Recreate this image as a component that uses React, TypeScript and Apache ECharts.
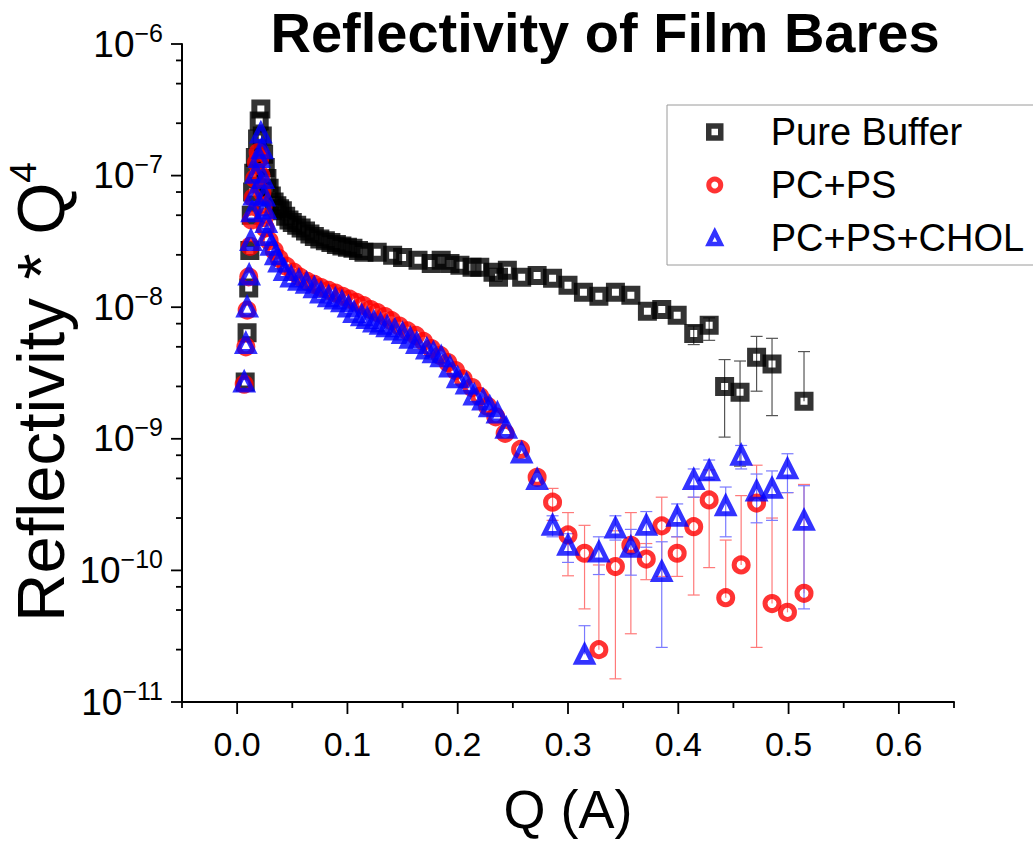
import React, { useEffect, useRef } from 'react';
import * as echarts from 'echarts';

// ---------- data ----------
const pureBufferQ = [0.0073, 0.0090, 0.0105, 0.0115, 0.0128, 0.0140, 0.0150, 0.0165, 0.0185, 0.0200, 0.0215, 0.0228, 0.0240, 0.0255, 0.0270, 0.0290, 0.0310, 0.0335, 0.0360, 0.0385, 0.0410, 0.0440, 0.0470, 0.0500, 0.0540, 0.0580, 0.0620, 0.0660, 0.0700, 0.0750, 0.0800, 0.0850, 0.0900, 0.0950, 0.1000, 0.1050, 0.1100, 0.1150, 0.1270, 0.1410, 0.1500, 0.1640, 0.1760, 0.1850, 0.1930, 0.2020, 0.2130, 0.2200, 0.2320, 0.2370, 0.2450, 0.2580, 0.2720, 0.2860, 0.3000, 0.3140, 0.3280, 0.3430, 0.3570, 0.3720, 0.3850, 0.3990, 0.4140, 0.4280, 0.4420, 0.4560, 0.4710, 0.4850, 0.5140];
const pureBufferR = [2.7e-9, 6.4e-9, 1.4e-8, 2.7e-8, 5.0e-8, 7.5e-8, 1.04e-7, 1.37e-7, 1.9e-7, 2.6e-7, 3.2e-7, 2.0e-7, 1.45e-7, 1.15e-7, 9.5e-8, 8.0e-8, 7.0e-8, 6.3e-8, 5.9e-8, 5.6e-8, 5.4e-8, 4.9e-8, 4.6e-8, 4.4e-8, 4.2e-8, 4.0e-8, 3.8e-8, 3.6e-8, 3.45e-8, 3.3e-8, 3.2e-8, 3.1e-8, 3.0e-8, 2.92e-8, 2.85e-8, 2.8e-8, 2.7e-8, 2.61e-8, 2.61e-8, 2.48e-8, 2.39e-8, 2.27e-8, 2.15e-8, 2.27e-8, 2.15e-8, 2.08e-8, 2.01e-8, 2.01e-8, 1.84e-8, 1.69e-8, 1.91e-8, 1.69e-8, 1.74e-8, 1.66e-8, 1.47e-8, 1.30e-8, 1.21e-8, 1.30e-8, 1.23e-8, 9.3e-9, 9.6e-9, 8.7e-9, 6.3e-9, 7.3e-9, 2.5e-9, 2.26e-9, 4.17e-9, 3.7e-9, 1.93e-9];

const pcpsQ = [0.0064, 0.0079, 0.0091, 0.0105, 0.0118, 0.0130, 0.0145, 0.0160, 0.0175, 0.0190, 0.0205, 0.0215, 0.0225, 0.0235, 0.0245, 0.0255, 0.0290, 0.0336, 0.0380, 0.0445, 0.0510, 0.0570, 0.0636, 0.0700, 0.0760, 0.0830, 0.0890, 0.0955, 0.1020, 0.1080, 0.1145, 0.1210, 0.1270, 0.1340, 0.1400, 0.1470, 0.1545, 0.1620, 0.1690, 0.1760, 0.1840, 0.1910, 0.1980, 0.2050, 0.2130, 0.2200, 0.2270, 0.2345, 0.2430, 0.2570, 0.2720, 0.2860, 0.3000, 0.3150, 0.3280, 0.3430, 0.3570, 0.3710, 0.3850, 0.3990, 0.4140, 0.4280, 0.4430, 0.4570, 0.4710, 0.4850, 0.4990, 0.5140];
const pcpsR = [2.6e-9, 5.0e-9, 9.5e-9, 1.7e-8, 2.9e-8, 4.6e-8, 6.8e-8, 9.5e-8, 1.25e-7, 1.5e-7, 1.35e-7, 1.0e-7, 7.5e-8, 5.8e-8, 4.8e-8, 4.0e-8, 3.2e-8, 2.7e-8, 2.35e-8, 2.05e-8, 1.85e-8, 1.69e-8, 1.57e-8, 1.49e-8, 1.41e-8, 1.34e-8, 1.28e-8, 1.21e-8, 1.15e-8, 1.09e-8, 1.03e-8, 9.6e-9, 9.1e-9, 8.5e-9, 7.9e-9, 7.2e-9, 6.6e-9, 6.1e-9, 5.5e-9, 4.85e-9, 4.3e-9, 3.8e-9, 3.3e-9, 2.85e-9, 2.45e-9, 2.1e-9, 1.77e-9, 1.47e-9, 1.1e-9, 8.3e-10, 5.1e-10, 3.3e-10, 1.86e-10, 1.35e-10, 2.5e-11, 1.07e-10, 1.55e-10, 1.22e-10, 2.18e-10, 1.35e-10, 2.15e-10, 3.43e-10, 6.2e-11, 1.1e-10, 3.25e-10, 5.6e-11, 4.8e-11, 6.7e-11];

const cholQ = [0.0064, 0.0079, 0.0091, 0.0109, 0.0125, 0.0136, 0.0155, 0.0170, 0.0200, 0.0215, 0.0227, 0.0236, 0.0246, 0.0255, 0.0264, 0.0270, 0.0310, 0.0350, 0.0380, 0.0430, 0.0490, 0.0560, 0.0630, 0.0700, 0.0760, 0.0830, 0.0890, 0.0950, 0.1010, 0.1060, 0.1130, 0.1180, 0.1240, 0.1300, 0.1360, 0.1430, 0.1500, 0.1570, 0.1630, 0.1720, 0.1780, 0.1850, 0.1930, 0.2000, 0.2080, 0.2150, 0.2230, 0.2290, 0.2360, 0.2440, 0.2580, 0.2720, 0.2860, 0.3000, 0.3150, 0.3280, 0.3430, 0.3570, 0.3710, 0.3850, 0.3990, 0.4140, 0.4280, 0.4430, 0.4570, 0.4710, 0.4850, 0.4990, 0.5140];
const cholR = [2.7e-9, 5.3e-9, 1.0e-8, 1.75e-8, 3.2e-8, 5.3e-8, 7.1e-8, 1.04e-7, 1.37e-7, 2.1e-7, 1.6e-7, 9.5e-8, 7.0e-8, 5.6e-8, 4.4e-8, 3.5e-8, 2.95e-8, 2.5e-8, 2.2e-8, 1.9e-8, 1.69e-8, 1.6e-8, 1.52e-8, 1.4e-8, 1.28e-8, 1.2e-8, 1.15e-8, 1.1e-8, 1.0e-8, 9.1e-9, 8.6e-9, 8.2e-9, 7.7e-9, 7.4e-9, 7.1e-9, 6.7e-9, 6.3e-9, 5.8e-9, 5.3e-9, 4.8e-9, 4.5e-9, 4.2e-9, 3.5e-9, 2.9e-9, 2.6e-9, 2.15e-9, 1.97e-9, 1.75e-9, 1.57e-9, 1.2e-9, 7.8e-10, 4.9e-10, 2.2e-10, 1.55e-10, 2.3e-11, 1.38e-10, 2.1e-10, 1.5e-10, 2.2e-10, 9.8e-11, 2.57e-10, 4.9e-10, 5.7e-10, 3.1e-10, 7.5e-10, 4.0e-10, 4.2e-10, 5.9e-10, 2.4e-10];

// error bars: lower bound 0 = lower bar not shown (goes below zero)
const pureBufferErrQ = [0.4140, 0.4280, 0.4420, 0.4560, 0.4710, 0.4850, 0.5140];
const pureBufferErrLo = [5.2e-9, 5.6e-9, 1.03e-9, 6.2e-10, 2.3e-9, 1.5e-9, 0];
const pureBufferErrHi = [7.2e-9, 8.3e-9, 4.0e-9, 3.9e-9, 6.0e-9, 5.8e-9, 4.6e-9];

const pcpsErrQ = [0.2860, 0.3000, 0.3150, 0.3280, 0.3430, 0.3570, 0.3710, 0.3850, 0.3990, 0.4140, 0.4280, 0.4430, 0.4570, 0.4710, 0.4850, 0.4990, 0.5140];
const pcpsErrLo = [2.4e-10, 9.1e-11, 5.1e-11, 0, 1.5e-11, 3.3e-11, 8.5e-11, 9e-11, 9e-11, 6.5e-11, 1.05e-10, 0, 0, 2.6e-11, 0, 0, 0];
const pcpsErrHi = [4.2e-10, 2.75e-10, 2.2e-10, 1.1e-10, 2.0e-10, 2.75e-10, 1.6e-10, 3.6e-10, 1.8e-10, 3.6e-10, 5.8e-10, 1.7e-10, 3.7e-10, 6.3e-10, 2.5e-10, 3.9e-10, 4.5e-10];

const cholErrQ = [0.2860, 0.3000, 0.3150, 0.3280, 0.3430, 0.3570, 0.3710, 0.3850, 0.3990, 0.4140, 0.4280, 0.4430, 0.4570, 0.4710, 0.4850, 0.4990, 0.5140];
const cholErrLo = [1.8e-10, 1.15e-10, 0, 9.3e-11, 1.7e-10, 9.2e-11, 1.5e-10, 2.6e-11, 1.8e-10, 3.6e-10, 4.9e-10, 1.8e-10, 5.9e-10, 2.3e-10, 2.4e-10, 3.9e-10, 5.1e-11];
const cholErrHi = [2.6e-10, 1.9e-10, 3.8e-11, 1.8e-10, 2.6e-10, 2.05e-10, 2.8e-10, 1.65e-10, 3.2e-10, 5.9e-10, 6.9e-10, 4.3e-10, 8.9e-10, 5.4e-10, 5.7e-10, 7.7e-10, 4.4e-10];

// axis ticks
const xMajorTicks = [0, 0.1, 0.2, 0.3, 0.4, 0.5, 0.6];
const xMinorTicks = [-0.05, 0.05, 0.15, 0.25, 0.35, 0.45, 0.55, 0.65];
const yMajorTicks = [1e-11, 1e-10, 1e-9, 1e-8, 1e-7, 1e-6];
const yMinorTicks = [2.5e-11, 5e-11, 7.5e-11, 2.5e-10, 5e-10, 7.5e-10, 2.5e-9, 5e-9, 7.5e-9, 2.5e-8, 5e-8, 7.5e-8, 2.5e-7, 5e-7, 7.5e-7];

const seriesNames = ['Pure Buffer', 'PC+PS', 'PC+PS+CHOL'];

const FONT = "'Liberation Sans', Arial, Helvetica, sans-serif";
const X_MIN = -0.05;
const X_MAX = 0.65;
const Y_MIN = 1e-11;
const Y_MAX = 1e-6;

function zip(q: number[], r: number[]) {
  return q.map((v, i) => [v, r[i]]);
}

function errData(eq: number[], lo: number[], hi: number[], q: number[], r: number[]) {
  return eq.map((x, i) => {
    let k = 0;
    let best = Infinity;
    q.forEach((qq, j) => {
      const d = Math.abs(qq - x);
      if (d < best) { best = d; k = j; }
    });
    const hasLo = lo[i] > 0 ? 1 : 0;
    return [x, hasLo ? lo[i] : r[k], hi[i], hasLo];
  });
}

function errSeries(name: string, data: number[][], color: string) {
  return {
    type: 'custom',
    name: name + ' error',
    silent: true,
    z: 1,
    data,
    encode: { x: 0, y: [1, 2] },
    renderItem: (params: any, api: any) => {
      const q = api.value(0);
      const lo = api.value(1);
      const hi = api.value(2);
      const hasLo = api.value(3);
      const pLo = api.coord([q, lo]);
      const pHi = api.coord([q, hi]);
      const cw = 6;
      const style = { stroke: color, lineWidth: 1.2, fill: null };
      const children: any[] = [
        { type: 'line', shape: { x1: pLo[0], y1: pLo[1], x2: pHi[0], y2: pHi[1] }, style },
        { type: 'line', shape: { x1: pHi[0] - cw, y1: pHi[1], x2: pHi[0] + cw, y2: pHi[1] }, style },
      ];
      if (hasLo) {
        children.push({ type: 'line', shape: { x1: pLo[0] - cw, y1: pLo[1], x2: pLo[0] + cw, y2: pLo[1] }, style });
      }
      return { type: 'group', children };
    },
  };
}

export default function App() {
  const ref = useRef<HTMLDivElement>(null);

  useEffect(() => {
    if (!ref.current) return;
    const chart = echarts.init(ref.current, undefined, { renderer: 'svg' });

    const tickData: number[][] = [
      ...xMajorTicks.map((v) => [v, Y_MIN, 0, 12]),
      ...xMinorTicks.map((v) => [v, Y_MIN, 0, 6]),
      ...yMajorTicks.map((v) => [X_MIN, v, 1, 11]),
      ...yMinorTicks.map((v) => [X_MIN, v, 1, 6]),
    ];

    const option: any = {
      animation: false,
      backgroundColor: '#ffffff',
      title: {
        text: 'Reflectivity of Film Bares',
        left: 605,
        top: 4,
        padding: 0,
        textAlign: 'center',
        textStyle: { fontSize: 56, fontWeight: 'bold', fontFamily: FONT, color: '#000' },
      },
      legend: {
        data: [
          { name: seriesNames[0], icon: 'rect', itemStyle: { color: 'rgba(0,0,0,0)', borderColor: '#000', borderWidth: 5.5 } },
          { name: seriesNames[1], icon: 'circle', itemStyle: { color: 'rgba(0,0,0,0)', borderColor: '#ff0000', borderWidth: 5 } },
          { name: seriesNames[2], icon: 'triangle', itemStyle: { color: 'rgba(0,0,0,0)', borderColor: '#0000ff', borderWidth: 4.5 } },
        ],
        orient: 'vertical',
        left: 667,
        top: 105,
        itemWidth: 12,
        itemHeight: 12,
        itemGap: 13,
        padding: [7, 40, 7, 39],
        borderColor: '#9a9a9a',
        borderWidth: 1,
        borderRadius: 0,
        backgroundColor: '#fff',
        selectedMode: false,
        textStyle: { fontSize: 38, fontFamily: FONT, color: '#000', lineHeight: 40, padding: [0, 0, 0, 45] },
      },
      grid: { left: 182, right: 79, top: 44, bottom: 146, containLabel: false, outerBoundsMode: 'none' },
      xAxis: {
        type: 'value',
        min: X_MIN,
        max: X_MAX,
        interval: 0.05,
        name: 'Q (A)',
        nameLocation: 'middle',
        nameGap: 80,
        nameMoveOverlap: false,
        nameTextStyle: { fontSize: 54, fontFamily: FONT, color: '#000' },
        axisLine: { show: true, onZero: false, lineStyle: { color: '#000', width: 2 } },
        axisTick: { show: false },
        splitLine: { show: false },
        axisLabel: {
          margin: 25,
          fontSize: 34,
          fontFamily: FONT,
          color: '#000',
          showMinLabel: true,
          showMaxLabel: true,
          formatter: (v: number) => {
            const k = Math.round(v * 20);
            return k % 2 === 0 ? (k / 20).toFixed(1) : '';
          },
        },
      },
      yAxis: {
        type: 'log',
        logBase: 10,
        min: Y_MIN,
        max: Y_MAX,
        name: '{a|Reflectivity * Q}{s|4}',
        nameLocation: 'middle',
        nameRotate: 90,
        nameGap: 107,
        nameMoveOverlap: false,
        nameTextStyle: {
          color: '#000',
          fontFamily: FONT,
          padding: [0, 38, 0, 0],
          rich: {
            a: { fontSize: 67, fontFamily: FONT, color: '#000', lineHeight: 70 },
            s: { fontSize: 37, fontFamily: FONT, color: '#000', lineHeight: 26, verticalAlign: 'top' },
          },
        },
        axisLine: { show: true, onZero: false, lineStyle: { color: '#000', width: 2 } },
        axisTick: { show: false },
        splitLine: { show: false },
        minorTick: { show: false },
        axisLabel: {
          margin: 19,
          color: '#000',
          fontFamily: FONT,
          formatter: (v: number) => {
            const e = Math.round(Math.log10(v));
            return '{b|10}{s|\u2212' + Math.abs(e) + '}';
          },
          rich: {
            b: { fontSize: 37, fontFamily: FONT, color: '#000', lineHeight: 48 },
            s: { fontSize: 25, fontFamily: FONT, color: '#000', lineHeight: 25, verticalAlign: 'top' },
          },
        },
      },
      series: [
        errSeries(seriesNames[0], errData(pureBufferErrQ, pureBufferErrLo, pureBufferErrHi, pureBufferQ, pureBufferR), '#555555'),
        errSeries(seriesNames[1], errData(pcpsErrQ, pcpsErrLo, pcpsErrHi, pcpsQ, pcpsR), '#ff7a7a'),
        errSeries(seriesNames[2], errData(cholErrQ, cholErrLo, cholErrHi, cholQ, cholR), '#7a7aff'),
        {
          type: 'scatter',
          name: seriesNames[0],
          data: zip(pureBufferQ, pureBufferR),
          symbol: 'rect',
          symbolSize: 13,
          z: 2,
          itemStyle: { color: 'rgba(0,0,0,0)', borderColor: '#000', borderWidth: 6 },
        },
        {
          type: 'scatter',
          name: seriesNames[1],
          data: zip(pcpsQ, pcpsR),
          symbol: 'circle',
          symbolSize: 14,
          z: 3,
          itemStyle: { color: 'rgba(0,0,0,0)', borderColor: '#ff0000', borderWidth: 5 },
        },
        {
          type: 'scatter',
          name: seriesNames[2],
          data: zip(cholQ, cholR),
          symbol: 'triangle',
          symbolSize: 16,
          z: 4,
          itemStyle: { color: 'rgba(0,0,0,0)', borderColor: '#0000ff', borderWidth: 4.8 },
        },
        {
          type: 'custom',
          name: 'ticks',
          silent: true,
          z: 5,
          clip: false,
          data: tickData,
          encode: { x: 0, y: 1 },
          renderItem: (params: any, api: any) => {
            const p = api.coord([api.value(0), api.value(1)]);
            const dir = api.value(2);
            const len = api.value(3);
            const shape = dir === 0
              ? { x1: p[0], y1: p[1], x2: p[0], y2: p[1] + len }
              : { x1: p[0], y1: p[1], x2: p[0] - len, y2: p[1] };
            return { type: 'line', shape, style: { stroke: '#000', lineWidth: 1.8 } };
          },
        },
      ],
    };

    chart.setOption(option);
    return () => chart.dispose();
  }, []);

  return (
    <div
      ref={ref}
      style={{ position: 'absolute', left: 0, top: 0, width: 1033, height: 848, background: '#fff' }}
    />
  );
}
